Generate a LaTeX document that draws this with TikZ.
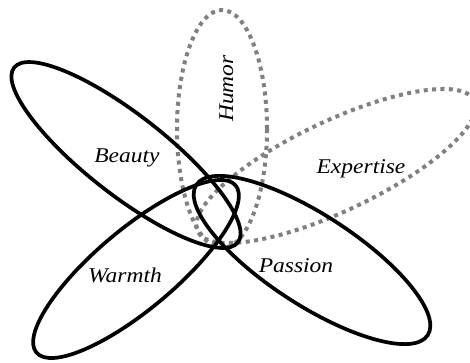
\documentclass[tikz,border=0pt]{standalone}
\usepackage{fontspec}
\newfontfamily\traitfont{Liberation Serif}[ItalicFeatures={FakeStretch=1.12}]
\tikzset{
petalsolid/.style={
draw=black,
line width=3.7pt
},
petaldotted/.style={
draw=black!50,
line width=4pt,
dash pattern=on 4pt off 4.4pt
},
traitlabel/.style={
font=\traitfont\itshape\fontsize{21}{25}\selectfont,
inner sep=0pt,
anchor=base
}
}

\begin{document}
\begin{tikzpicture}[x=1pt, y=1pt]

\useasboundingbox (0,0) rectangle (470,363);

% dotted petals (behind)
\draw[petaldotted] (222,234) ellipse [x radius=45, y radius=119];
\draw[petaldotted, rotate around={25.3:(336,197)}]
  (336,197) ellipse [x radius=153, y radius=45];

% solid petals
\draw[petalsolid, rotate around={-38:(126,208)}]
  (126,208) ellipse [x radius=142, y radius=40];
\draw[petalsolid, rotate around={40:(136,94)}]
  (136,94) ellipse [x radius=130, y radius=40];
\draw[petalsolid, rotate around={-33:(312,103)}]
  (312,103) ellipse [x radius=138, y radius=45];

\node[traitlabel] (beauty) at (127,200) {Beauty};
\node[traitlabel, rotate=90] (humor) at (233,274.5) {Humor};
\node[traitlabel] (expertise) at (361,189.7) {Expertise};
\node[traitlabel] (passion) at (296,90.7) {Passion};
\node[traitlabel] (warmth) at (125,80.3) {Warmth};

\end{tikzpicture}
\end{document}
